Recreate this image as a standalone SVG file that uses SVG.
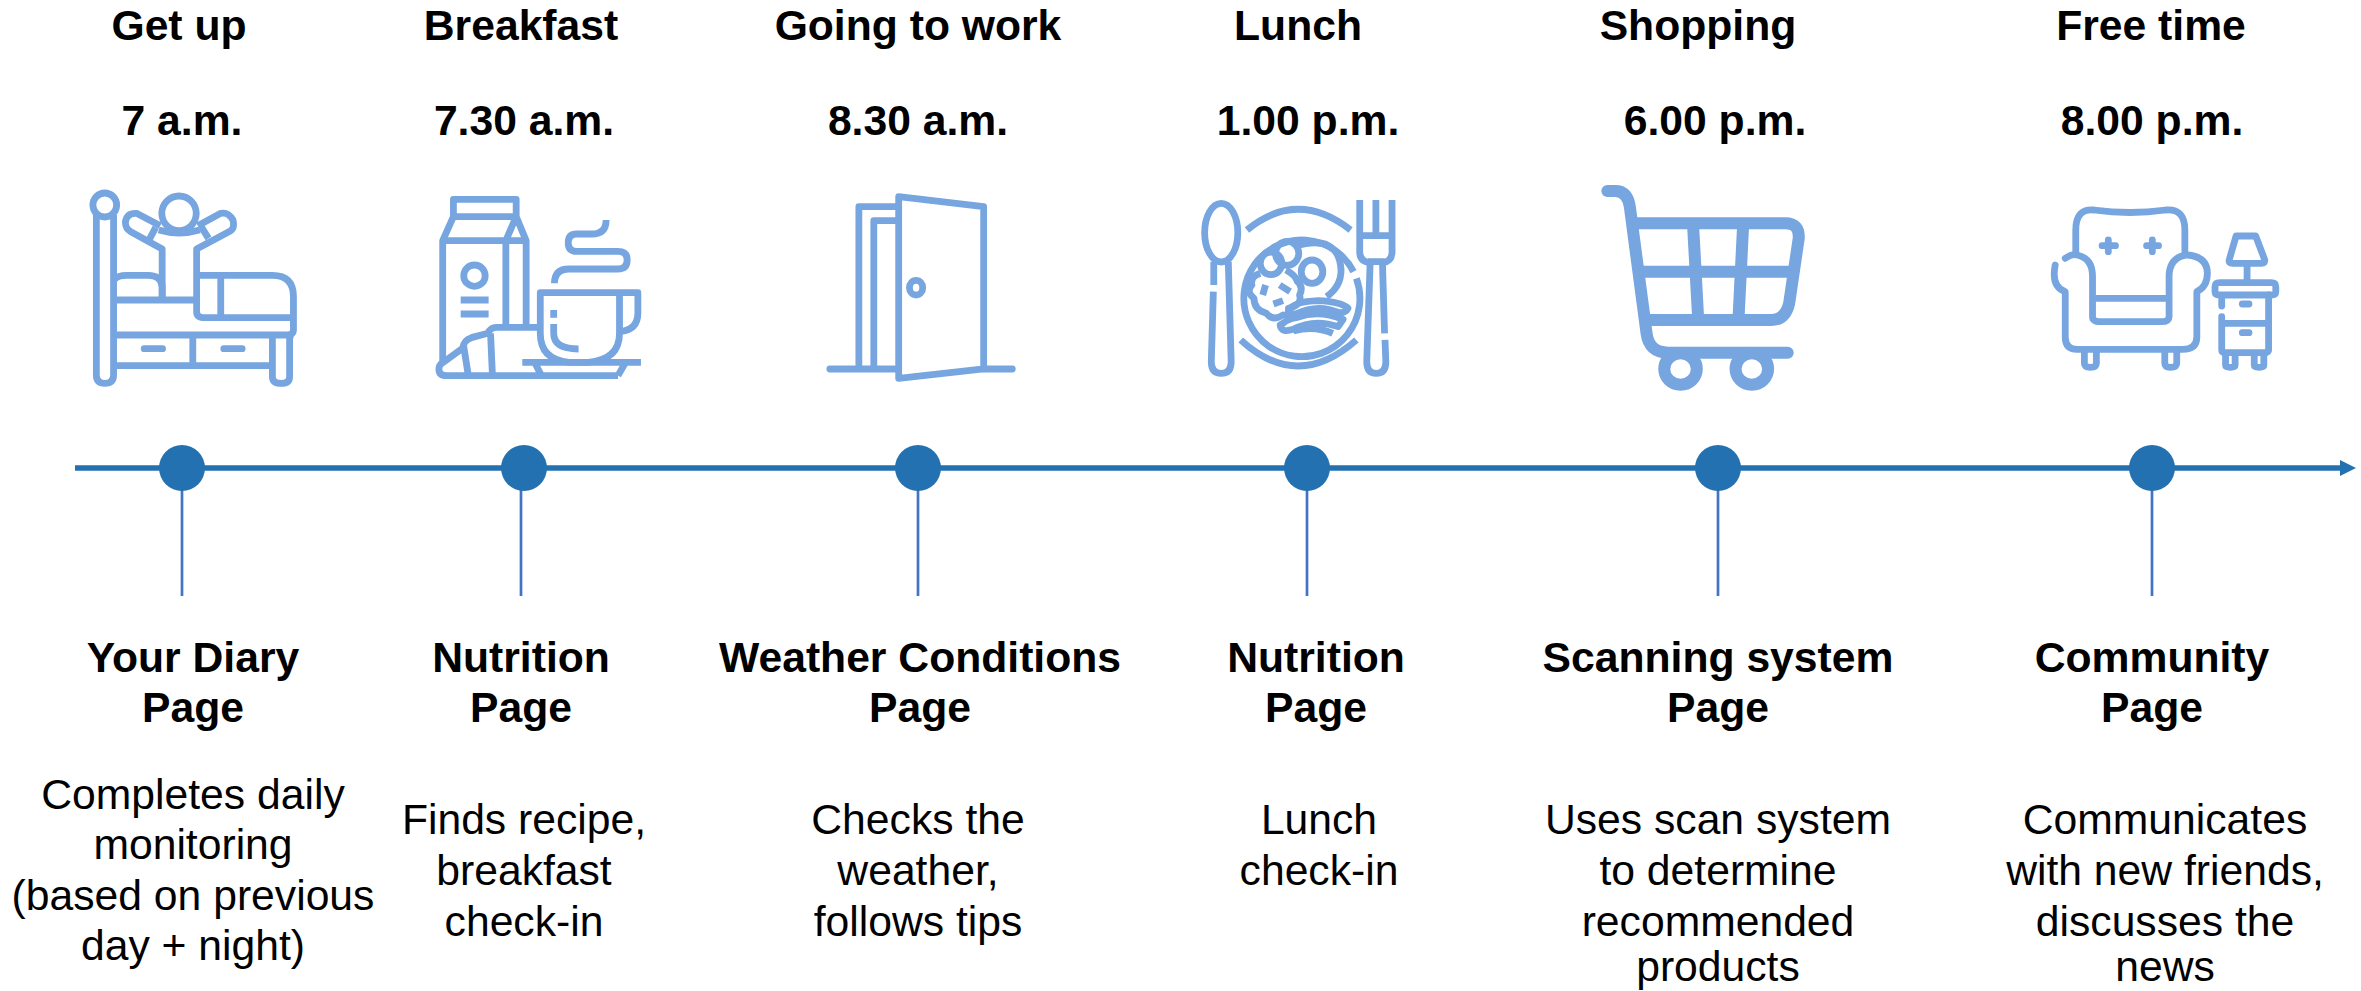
<svg xmlns="http://www.w3.org/2000/svg" width="2361" height="991" viewBox="0 0 2361 991">
<style>
text{font-family:"Liberation Sans",Arial,sans-serif;font-size:42.67px;fill:#000;text-anchor:middle}
.b{font-weight:700}
.ic *{fill:none;stroke:#76a5e0;stroke-width:6.8;vector-effect:non-scaling-stroke;stroke-linejoin:round}
.ic .r{stroke-linecap:round}
.ic .t{stroke-width:12}
.dot{fill:#2371b0}
.drop{stroke:#4472c4;stroke-width:2.7;fill:none}
</style>
<defs>
<marker id="ah" markerUnits="userSpaceOnUse" markerWidth="16" markerHeight="16" refX="0" refY="8" orient="auto"><path d="M0 0L16 8L0 16Z" fill="#2371b0"/></marker>
</defs>
<rect width="2361" height="991" fill="#fff"/>
<g id="connectors">
<path d="M75 468H2340" stroke="#2371b0" stroke-width="5.5" fill="none" marker-end="url(#ah)"/>
<path class="drop" d="M182 468V596M521 468V596M918 468V596M1307 468V596M1718 468V596M2152 468V596"/>
</g>
<g id="node-getup">
<text class="b" x="179" y="40">Get up</text><text class="b" x="182" y="135">7 a.m.</text>
<g class="ic" transform="translate(60 170) scale(.3827 .3333)">
<ellipse cx="117" cy="105" rx="31" ry="36"/>
<path d="M95 135V615Q95 640 117 640Q140 640 140 615V135"/>
<path d="M140 330Q150 316 175 316H230Q265 316 267 350V390M140 390H357"/>
<path d="M267 390V237L185 185Q170 175 171 155Q175 128 200 130L262 167M250 172L235 205"/>
<path d="M357 390V237L445 183Q457 175 452 150Q440 125 420 130L360 167M370 172L388 205"/>
<ellipse cx="311" cy="130" rx="45" ry="52"/>
<path d="M258 180Q311 198 365 180"/>
<path d="M357 316H555Q610 316 610 380V480Q610 490 600 495M357 390V425Q357 443 378 443H610M420 316V443"/>
<path d="M140 495H610M347 495V587M140 587H555M555 495V620Q555 640 578 640Q600 640 600 620V495"/>
<path class="r" d="M220 536H268M428 536H476"/>
</g>
</g>
<g id="node-breakfast">
<text class="b" x="521" y="40">Breakfast</text><text class="b" x="524" y="135">7.30 a.m.</text>
<g class="ic" transform="translate(60 170) scale(.3827 .3333)">
<path d="M1028 140V88H1192V140ZM1028 140L1000 212V575M1192 140L1218 212V470M1000 212H1218M1165 212V470M1165 212L1190 145"/>
<ellipse cx="1083" cy="317" rx="28" ry="32"/>
<path d="M1047 390H1120M1047 432H1120"/>
<path d="M1427 150Q1427 192 1390 192H1350Q1328 192 1328 218Q1328 244 1350 244H1458Q1482 244 1482 270Q1482 297 1458 297H1330Q1292 297 1292 340"/>
<path d="M1255 490V368H1510V430Q1510 480 1462 485M1462 368V490Q1462 570 1380 577H1330Q1255 570 1255 490M1290 420V443M1290 462V490Q1290 537 1355 537"/>
<path d="M1208 577H1518M1240 577L1258 617M1478 577L1458 617"/>
<path d="M1458 617H1010Q990 617 990 597Q990 585 1000 578L1052 535Q1055 510 1075 503L1118 490Q1125 472 1140 472H1255M1125 490L1130 617M1055 530L1067 617"/>
</g>
</g>
<g id="node-work">
<text class="b" x="918" y="40">Going to work</text><text class="b" x="918" y="135">8.30 a.m.</text>
<g class="ic" transform="translate(800 170) scale(.4146 .3333)">
<path class="r" d="M72 597H238M443 597H512"/>
<path d="M238 80L443 110V597L238 625ZM142 597V110H238M178 597V152H238"/>
<ellipse cx="280" cy="353" rx="16" ry="22"/>
</g>
</g>
<g id="node-lunch">
<text class="b" x="1298" y="40">Lunch</text><text class="b" x="1308" y="135">1.00 p.m.</text>
<g class="ic" transform="translate(800 170) scale(.4146 .3333)">
<ellipse cx="1016" cy="188" rx="40" ry="88"/>
<path d="M998 275V345M997 365L992 575Q992 610 1016 610Q1040 610 1040 575L1033 275"/>
<path d="M1078 180Q1200 56 1328 180M1063 510Q1200 666 1342 510"/>
<path d="M1342 325A140 175 0 1 1 1335 305"/>
<path d="M1195 228Q1300 190 1305 300Q1305 350 1270 380"/>
<ellipse cx="1136" cy="280" rx="26" ry="34"/>
<ellipse cx="1175" cy="250" rx="28" ry="36"/>
<ellipse cx="1235" cy="305" rx="26" ry="35"/>
<path d="M1110 310Q1085 320 1090 345Q1075 365 1095 385Q1095 420 1125 430Q1140 455 1165 435Q1180 440 1178 415Q1212 405 1205 375Q1215 350 1200 335Q1195 315 1172 300"/>
<path d="M1123 345L1116 375M1157 345L1182 365M1142 402L1165 392"/>
<path d="M1180 420Q1190 395 1250 392Q1305 395 1322 415Q1315 430 1300 428Q1250 400 1195 432Q1178 432 1180 420Z"/>
<path d="M1165 460Q1175 447 1200 442Q1250 418 1310 448L1298 470Q1240 445 1190 478Q1160 490 1158 465Z"/>
<path d="M1190 483Q1240 465 1285 490"/>
<path d="M1350 90V197M1389 90V197M1428 90V197M1350 197H1428M1350 197V245Q1350 275 1375 278M1428 197V245Q1428 275 1405 278M1370 275H1410"/>
<path d="M1375 285L1367 575Q1367 610 1390 610Q1413 610 1413 575L1411 510M1410 490L1405 285"/>
</g>
</g>
<g id="node-shopping">
<text class="b" x="1698" y="40">Shopping</text><text class="b" x="1715" y="135">6.00 p.m.</text>
<g class="ic" transform="translate(1570 170) scale(.4785 .3333)">
<path class="t r" d="M78 63H95Q120 63 125 110L160 490Q165 548 205 548H455"/>
<path class="t" d="M130 160H450Q480 160 478 205L458 400Q450 450 420 450H160M145 305H470M257 160L268 450M362 160L352 450"/>
<ellipse class="t" cx="231" cy="597" rx="34" ry="47"/>
<ellipse class="t" cx="380" cy="597" rx="34" ry="47"/>
</g>
</g>
<g id="node-free">
<text class="b" x="2151" y="40">Free time</text><text class="b" x="2152" y="135">8.00 p.m.</text>
<g class="ic" transform="translate(1570 170) scale(.4785 .3333)">
<path d="M1057 250V180Q1057 115 1095 120Q1170 135 1245 120Q1285 115 1285 180V250"/>
<path class="r" d="M1035 265Q1050 250 1060 255Q1092 265 1092 320V440Q1092 455 1110 455H1235Q1252 455 1252 440V320Q1252 262 1290 255Q1332 260 1332 310Q1332 350 1310 365V500Q1310 538 1280 538H1060Q1035 538 1035 500V365Q1005 350 1014 285"/>
<path d="M1092 385H1252"/>
<path d="M1075 538V580Q1075 592 1088 592Q1100 592 1100 580V538M1243 538V580Q1243 592 1255 592Q1268 592 1268 580V538"/>
<path class="r" d="M1125 210V245M1112 227H1140M1217 210V245M1205 227H1230"/>
<path d="M1358 338H1465Q1475 338 1475 350V365Q1475 375 1465 375H1358Q1348 375 1348 365V350Q1348 338 1358 338Z"/>
<path d="M1392 198H1433L1452 270Q1452 280 1445 280H1385Q1375 280 1378 268ZM1415 280V338"/>
<path class="r" d="M1460 375V540Q1460 545 1455 548H1370Q1362 548 1362 540V440M1362 380V408M1362 460H1460M1405 402H1419M1405 488H1419"/>
<path d="M1370 548V585Q1370 592 1380 592Q1390 592 1390 585V550M1430 550V585Q1430 592 1440 592Q1450 592 1450 585V550"/>
</g>
</g>
<g id="dots">
<circle class="dot" cx="182" cy="468" r="23"/><circle class="dot" cx="524" cy="468" r="23"/><circle class="dot" cx="918" cy="468" r="23"/><circle class="dot" cx="1307" cy="468" r="23"/><circle class="dot" cx="1718" cy="468" r="23"/><circle class="dot" cx="2152" cy="468" r="23"/>
</g>
<g id="label-diary"><text class="b" x="193" y="672">Your Diary</text><text class="b" x="193" y="722">Page</text>
<text x="193" y="809">Completes daily</text><text x="193" y="859">monitoring</text><text x="193" y="910">(based on previous</text><text x="193" y="960">day + night)</text></g>
<g id="label-nutrition1"><text class="b" x="521" y="672">Nutrition</text><text class="b" x="521" y="722">Page</text>
<text x="524" y="834">Finds recipe,</text><text x="524" y="885">breakfast</text><text x="524" y="936">check-in</text></g>
<g id="label-weather"><text class="b" x="920" y="672">Weather Conditions</text><text class="b" x="920" y="722">Page</text>
<text x="918" y="834">Checks the</text><text x="918" y="885">weather,</text><text x="918" y="936">follows tips</text></g>
<g id="label-nutrition2"><text class="b" x="1316" y="672">Nutrition</text><text class="b" x="1316" y="722">Page</text>
<text x="1319" y="834">Lunch</text><text x="1319" y="885">check-in</text></g>
<g id="label-scanning"><text class="b" x="1718" y="672">Scanning system</text><text class="b" x="1718" y="722">Page</text>
<text x="1718" y="834">Uses scan system</text><text x="1718" y="885">to determine</text><text x="1718" y="936">recommended</text><text x="1718" y="981">products</text></g>
<g id="label-community"><text class="b" x="2152" y="672">Community</text><text class="b" x="2152" y="722">Page</text>
<text x="2165" y="834">Communicates</text><text x="2165" y="885">with new friends,</text><text x="2165" y="936">discusses the</text><text x="2165" y="981">news</text></g>
</svg>
